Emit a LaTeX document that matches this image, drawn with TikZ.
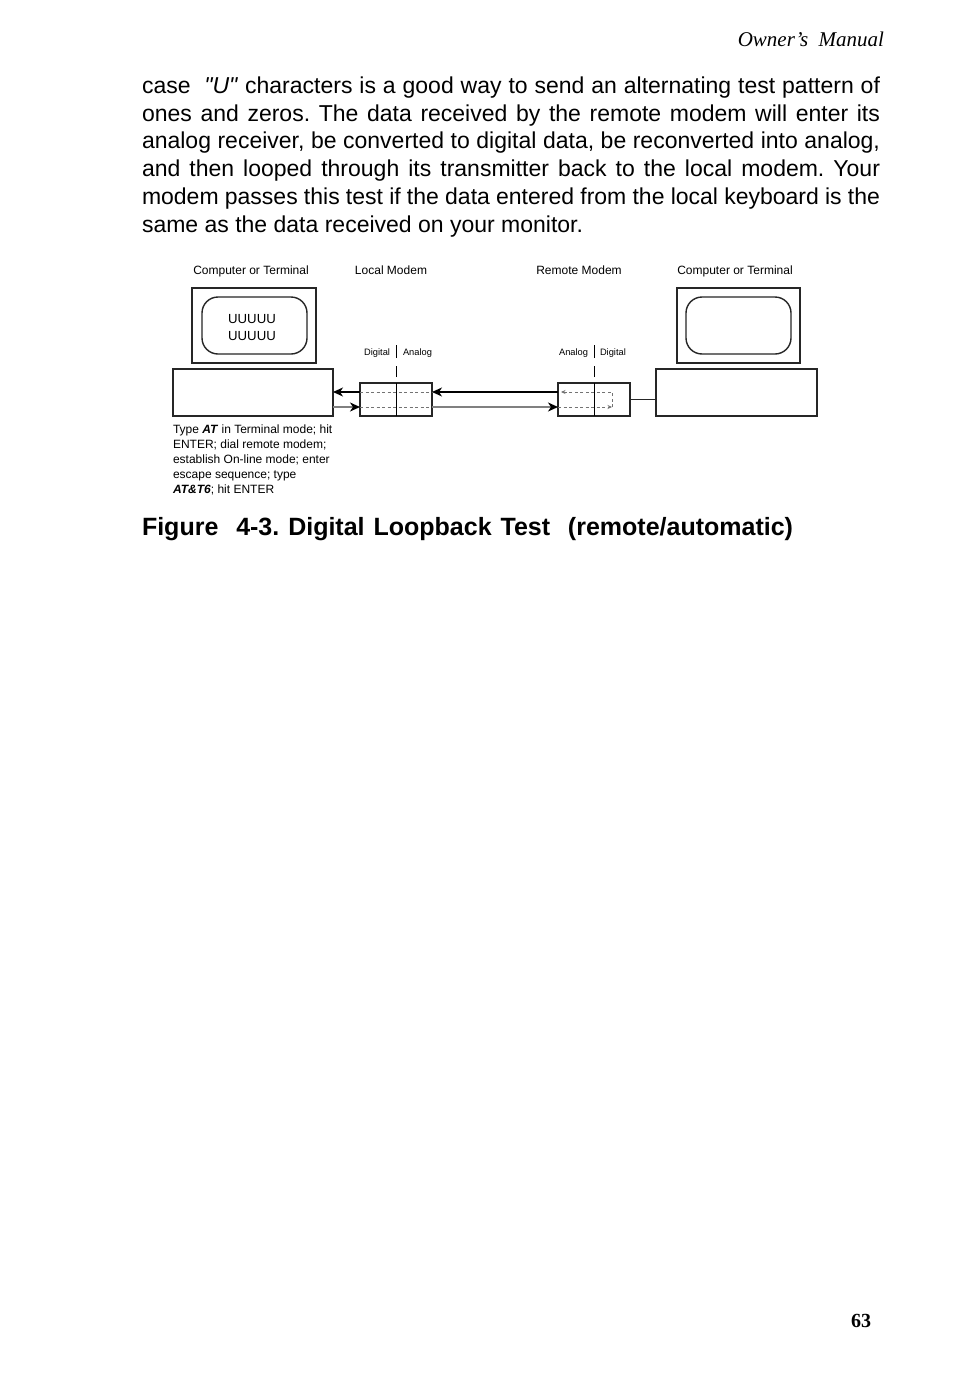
\documentclass[tikz,border=0pt]{standalone}
\usepackage{fontspec}
\setmainfont{Liberation Serif}
\newfontfamily\bodyfont[FakeStretch=1.0]{Liberation Sans}
\newfontfamily\capfont{Liberation Sans}
\newfontfamily\diafont{Liberation Sans}
\newfontfamily\headfont{Liberation Serif}
\usetikzlibrary{arrows.meta}
\frenchspacing
\begin{document}
\begin{tikzpicture}[x=1pt,y=-1pt,
  every node/.style={inner sep=0pt, outer sep=0pt},
  box/.style={draw=black!85, line width=1.4pt},
  scr/.style={draw=black!85, line width=1.4pt, rounded corners=16pt},
  lab/.style={font=\diafont\fontsize{12}{14}\selectfont, anchor=base},
  sm/.style={font=\diafont\fontsize{9.3}{11}\selectfont},
  bodyline/.style={anchor=base west, font=\bodyfont\fontsize{23}{27}\selectfont},
  blk/.style={draw=black, line width=1.3pt, -{Stealth[length=10pt,width=9pt,inset=3pt]}},
  gry/.style={draw=black!50, line width=2pt, -{Stealth[length=10pt,width=9pt,inset=3pt,black]}},
  dsh/.style={draw=black!55, line width=0.7pt, dash pattern=on 3pt off 2.5pt},
  smalltip/.style={-{Stealth[length=4.5pt,width=4pt]}},
  divider/.style={draw=black, line width=0.9pt}]
\fill[white] (0,0) rectangle (954,1373);
\useasboundingbox (0,0) rectangle (954,1373);

% header and body text
\node[anchor=base east, font=\headfont\itshape\fontsize{21}{24}\selectfont] (hdr) at (884,46) {Owner’s\ \ Manual};
\node[bodyline] (l1) at (142,93) {\makebox[738pt][s]{case\ \ \textit{"U"} characters is a good way to send an alternating test pattern of}};
\node[bodyline] (l2) at (142,121) {\makebox[738pt][s]{ones and zeros. The data received by the remote modem will enter its}};
\node[bodyline] (l3) at (142,148) {\makebox[738pt][s]{analog receiver, be converted to digital data, be reconverted into analog,}};
\node[bodyline] (l4) at (142,176) {\makebox[738pt][s]{and then looped through its transmitter back to the local modem. Your}};
\node[bodyline] (l5) at (142,204) {\makebox[738pt][s]{modem passes this test if the data entered from the local keyboard is the}};
\node[bodyline] (l6) at (142,232) {same as the data received on your monitor.};

% column labels
\node[lab] (t1) at (251,274) {Computer or Terminal};
\node[lab] (t2) at (391,274) {Local Modem};
\node[lab] (t3) at (579,274) {Remote Modem};
\node[lab] (t4) at (735,274) {Computer or Terminal};

% local computer
\node[box, minimum width=124pt, minimum height=75pt] (lmon) at (254,325.5) {};
\node[scr, minimum width=105pt, minimum height=57pt] (lscr) at (254.5,325.5) {};
\node[lab, font=\diafont\fontsize{13.2}{15}\selectfont] (u1) at (252,323) {UUUUU};
\node[lab, font=\diafont\fontsize{13.2}{15}\selectfont] (u2) at (252,340) {UUUUU};
\node[box, minimum width=160pt, minimum height=47pt] (lbase) at (253,392.5) {};

% remote computer
\node[box, minimum width=123pt, minimum height=75pt] (rmon) at (738.5,325.5) {};
\node[scr, minimum width=105pt, minimum height=57pt] (rscr) at (738.5,325.5) {};
\node[box, minimum width=161pt, minimum height=47pt] (rbase) at (736.5,392.5) {};

% modems
\node[box, minimum width=72pt, minimum height=33pt] (lmod) at (396,399.5) {};
\node[box, minimum width=72pt, minimum height=33pt] (rmod) at (594,399.5) {};

% modem labels
\node[sm, anchor=base east] (ld) at (390,355) {Digital};
\node[sm, anchor=base west] (la) at (403,355) {Analog};
\node[sm, anchor=base east] (ra) at (588,355) {Analog};
\node[sm, anchor=base west] (rd) at (600,355) {Digital};
\draw[divider] ([yshift=25pt]lmod.north) -- ([yshift=38pt]lmod.north);
\draw[divider] ([yshift=6pt]lmod.north) -- ([yshift=17pt]lmod.north);
\draw[divider] (lmod.north) -- (lmod.south);
\draw[divider] ([yshift=25pt]rmod.north) -- ([yshift=38pt]rmod.north);
\draw[divider] ([yshift=6pt]rmod.north) -- ([yshift=17pt]rmod.north);
\draw[divider] (rmod.north) -- (rmod.south);

% dashed paths inside modems
\draw[dsh] ([yshift=7.5pt]lmod.west) -- ([yshift=7.5pt]lmod.east);
\draw[dsh] ([yshift=-7.5pt]lmod.west) -- ([yshift=-7.5pt]lmod.east);
\draw[dsh, smalltip] ([yshift=-7.5pt]rmod.west) -- ([xshift=18pt,yshift=-7.5pt]rmod.center);
\draw[dsh, smalltip] ([xshift=18pt,yshift=-7.5pt]rmod.center) -- ([xshift=18pt,yshift=7.5pt]rmod.center) -- ([xshift=3pt,yshift=7.5pt]rmod.west);

% connectors
\draw[blk] ([yshift=7.5pt]rmod.west) -- ([yshift=7.5pt]lmod.east);
\draw[blk] ([yshift=7.5pt]lmod.west) -- ([yshift=7.5pt]lmod.west -| lbase.east);
\draw[gry] ([yshift=-7.5pt]lmod.west -| lbase.east) -- ([yshift=-7.5pt]lmod.west);
\draw[gry] ([yshift=-7.5pt]lmod.east) -- ([yshift=-7.5pt]rmod.west);
\draw[box] (rmod.east) -- (rmod.east -| rbase.west);

% instructions
\node[lab, anchor=base west] (n1) at (173,433) {Type \textbf{\textit{AT}} in Terminal mode; hit};
\node[lab, anchor=base west] (n2) at (173,448.2) {ENTER; dial remote modem;};
\node[lab, anchor=base west] (n3) at (173,463.4) {establish On-line mode; enter};
\node[lab, anchor=base west] (n4) at (173,478.6) {escape sequence; type};
\node[lab, anchor=base west] (n5) at (173,493.8) {\textbf{\textit{AT\&T6}}; hit ENTER};

% caption and page number
\node[anchor=base west, font=\capfont\bfseries\fontsize{25}{29}\selectfont] (cap) at (142,535) {\makebox[651pt][s]{Figure\ \ 4-3. Digital Loopback Test\ \ (remote/automatic)}};
\node[anchor=base, font=\headfont\bfseries\fontsize{20}{24}\selectfont] (pg) at (861,1327) {63};
\end{tikzpicture}
\end{document}
